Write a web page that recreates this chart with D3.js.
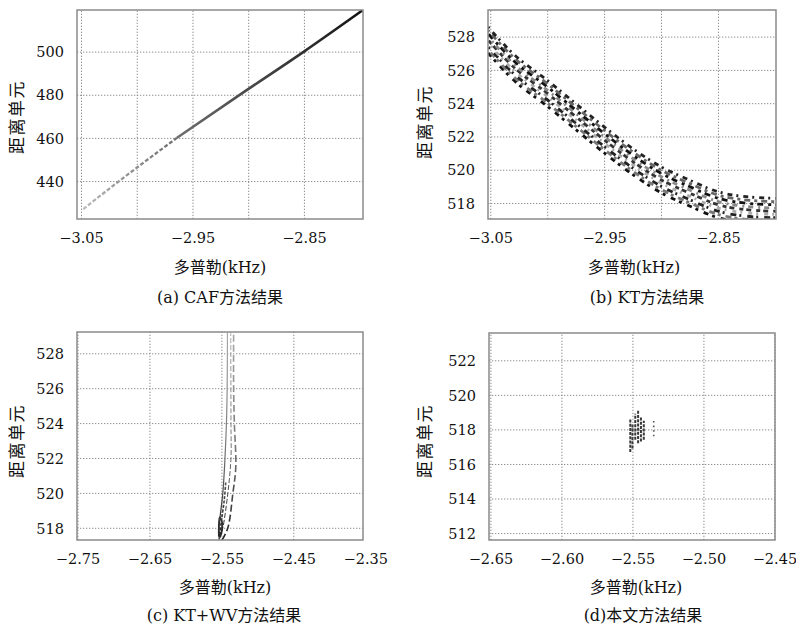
<!DOCTYPE html>
<html><head><meta charset="utf-8">
<script src="https://cdn.jsdelivr.net/npm/d3@7"></script>
<style>body{margin:0;background:#fff}</style></head>
<body>
<svg id="chart" width="796" height="630"></svg>
<script>
// ---------- DATA ----------
// (a) CAF ridge
const aDoppler = [-3.048, -3.017, -2.964, -2.906, -2.85, -2.797];
const aRange   = [427.0, 439.5, 460, 480.5, 500, 519.3];
const aLevel   = [0.2, 0.35, 0.55, 0.72, 0.85, 1.0];
// (b) KT band centre line
const bDoppler = [-3.052, -3.03, -3.00, -2.975, -2.95, -2.925, -2.90, -2.875, -2.85, -2.825, -2.797];
const bRange   = [527.8, 526.2, 524.6, 523.2, 521.8, 520.5, 519.4, 518.6, 517.9, 517.6, 517.5];
// (c) KT+WV contour lines
const cCurves = [
  {doppler: [-2.553, -2.5533, -2.548, -2.545, -2.543, -2.542, -2.5416], range: [517.3, 518, 520, 522, 524, 526, 529.2]},
  {doppler: [-2.549, -2.541, -2.534, -2.530, -2.532, -2.533, -2.533], range: [517.3, 518, 520, 521.5, 524, 526, 529.2]},
  {doppler: [-2.552, -2.548, -2.541, -2.5367, -2.5367, -2.537], range: [517.4, 518, 520, 522, 524, 529.2]},
  {doppler: [-2.552, -2.550, -2.546, -2.544], range: [517.6, 518.4, 519.6, 520.6]},
  {doppler: [-2.5535, -2.551, -2.549, -2.5525, -2.5535], range: [517.5, 517.6, 518.3, 518.6, 517.5]}
];
// (d) proposed method: compact peak
const dDoppler = [-2.5515, -2.550, -2.548, -2.546, -2.544, -2.542, -2.535];
const dLow     = [516.7, 516.9, 517.4, 517.2, 517.3, 517.4, 517.6];
const dHigh    = [518.6, 518.3, 518.9, 519.1, 518.7, 518.5, 518.6];

// tick values
const abXTicks = [-3.05, -2.95, -2.85];
const abXGrid  = [-3.05, -3.00, -2.95, -2.90, -2.85];
const aYTicks  = [440, 460, 480, 500];
const bYTicks  = [518, 520, 522, 524, 526, 528];
const cXTicks  = [-2.75, -2.65, -2.55, -2.45, -2.35];
const cYTicks  = [518, 520, 522, 524, 526, 528];
const dXTicks  = [-2.65, -2.60, -2.55, -2.50, -2.45];
const dYTicks  = [512, 514, 516, 518, 520, 522];

const xTitle = "多普勒(kHz)";
const yTitle = "距离单元";
const captions = ["(a) CAF方法结果", "(b) KT方法结果", "(c) KT+WV方法结果", "(d)本文方法结果"];

// ---------- LAYOUT ----------
const svg = d3.select("#chart");
const defs = svg.append("defs");
const SERIF = "'DejaVu Serif', 'Noto Sans CJK SC', serif";
const panels = [
  {x0: 77, x1: 363, y0: 10, y1: 219, xd: [-3.0536, -2.797], yd: [422.4, 519.3], xt: abXTicks, xg: abXGrid, yt: aYTicks,
   xt_c: [220, 273], cap: [220, 303], yt_c: [17, 117]},
  {x0: 488, x1: 776, y0: 10, y1: 219, xd: [-3.052, -2.799], yd: [517.04, 529.6], xt: abXTicks, xg: abXGrid, yt: bYTicks,
   xt_c: [634, 273], cap: [647, 303], yt_c: [425, 122]},
  {x0: 77, x1: 363, y0: 332, y1: 540, xd: [-2.7507, -2.3532], yd: [517.3, 529.22], xt: cXTicks, xg: cXTicks, yt: cYTicks,
   xt_c: [225, 593], cap: [224, 621], yt_c: [17, 441]},
  {x0: 489, x1: 775, y0: 333, y1: 540, xd: [-2.651, -2.4496], yd: [511.6, 523.58], xt: dXTicks, xg: dXTicks, yt: dYTicks,
   xt_c: [636, 593], cap: [643, 621], yt_c: [425, 441]}
];

panels.forEach((p, i) => {
  p.x = d3.scaleLinear().domain(p.xd).range([p.x0, p.x1]);
  p.y = d3.scaleLinear().domain(p.yd).range([p.y1, p.y0]);
  const g = svg.append("g");
  p.g = g;
  const clipId = "clip" + i;
  defs.append("clipPath").attr("id", clipId).append("rect")
    .attr("x", p.x0).attr("y", p.y0).attr("width", p.x1 - p.x0).attr("height", p.y1 - p.y0);
  p.clip = "url(#" + clipId + ")";

  // grid
  const inX = p.xg.filter(v => p.x(v) >= p.x0 - 0.5 && p.x(v) <= p.x1 + 0.5);
  const gx = g.append("g").attr("transform", `translate(0,${p.y1})`)
    .call(d3.axisBottom(p.x).tickValues(inX).tickSize(-(p.y1 - p.y0)).tickFormat(""));
  const gy = g.append("g").attr("transform", `translate(${p.x0},0)`)
    .call(d3.axisLeft(p.y).tickValues(p.yt).tickSize(-(p.x1 - p.x0)).tickFormat(""));
  [gx, gy].forEach(a => {
    a.select(".domain").remove();
    a.selectAll("line").attr("stroke", "#8c8c8c").attr("stroke-width", 1).attr("stroke-dasharray", "1.3 1.7");
  });

  // tick labels
  const lx = g.append("g").attr("transform", `translate(0,${p.y1 + 4})`)
    .call(d3.axisBottom(p.x).tickValues(p.xt).tickSize(0).tickPadding(10).tickFormat(d3.format(".2f")));
  const ly = g.append("g").attr("transform", `translate(${p.x0 - 13},0)`)
    .call(d3.axisLeft(p.y).tickValues(p.yt).tickSize(0).tickPadding(0).tickFormat(d3.format("d")));
  [lx, ly].forEach(a => {
    a.select(".domain").remove();
    a.selectAll("text").attr("font-family", "'DejaVu Serif', serif").attr("font-size", 14.5).attr("fill", "#111");
  });
  ly.selectAll("text").attr("dy", "0.36em");

  // titles
  g.append("text").attr("x", p.xt_c[0]).attr("y", p.xt_c[1]).attr("text-anchor", "middle")
    .attr("font-family", SERIF).attr("font-size", 16).attr("fill", "#111").text(xTitle);
  g.append("text").attr("transform", `translate(${p.yt_c[0] + 6},${p.yt_c[1]}) rotate(-90)`)
    .attr("text-anchor", "middle").attr("font-family", SERIF).attr("font-size", 17)
    .attr("letter-spacing", 1.5).attr("fill", "#111").text(yTitle);
  g.append("text").attr("x", p.cap[0]).attr("y", p.cap[1]).attr("text-anchor", "middle")
    .attr("font-family", SERIF).attr("font-size", 16).attr("fill", "#111").text(captions[i]);
});

// ---------- MARKS ----------
// (a)
{
  const p = panels[0];
  const col = d3.scaleLinear().domain([0, 1]).range(["#e6e6e6", "#111"]);
  const gr = defs.append("linearGradient").attr("id", "agrad").attr("gradientUnits", "userSpaceOnUse")
    .attr("x1", p.x(aDoppler[0])).attr("y1", p.y(aRange[0]))
    .attr("x2", p.x(aDoppler[aDoppler.length - 1])).attr("y2", p.y(aRange[aRange.length - 1]));
  const t = d3.scaleLinear().domain([aDoppler[0], aDoppler[aDoppler.length - 1]]).range([0, 1]);
  aDoppler.forEach((d, k) => gr.append("stop").attr("offset", t(d)).attr("stop-color", col(aLevel[k])));
  const m = p.g.append("g").attr("clip-path", p.clip);
  const pts = aDoppler.map((d, k) => [d, aRange[k]]);
  const line = d3.line().x(d => p.x(d[0])).y(d => p.y(d[1])).curve(d3.curveMonotoneX);
  const cut = 3;
  m.append("path").attr("d", line(pts.slice(0, cut))).attr("fill", "none")
    .attr("stroke", "url(#agrad)").attr("stroke-width", 2.3).attr("stroke-dasharray", "4 2");
  m.append("path").attr("d", line(pts.slice(cut - 1))).attr("fill", "none")
    .attr("stroke", "url(#agrad)").attr("stroke-width", 2.6);
}
// (b)
{
  const p = panels[1];
  const m = p.g.append("g").attr("clip-path", p.clip);
  const pts = bDoppler.map((d, k) => [d, bRange[k]]);
  const offsets = [-0.78, -0.58, -0.39, -0.19, 0, 0.19, 0.39, 0.58, 0.78];
  const dashes = ["5 4 3 6", "3 5 6 3", "6 3 2 6", "2 6 4 4", "4 3 5 5", "5 5 2 4", "3 4 6 5", "6 4 3 4", "2 5 5 4"];
  const colors = ["#111", "#777", "#222", "#aaa", "#333", "#888", "#111", "#666", "#222"];
  offsets.forEach((o, j) => {
    const line = d3.line().x(d => p.x(d[0])).y(d => p.y(d[1] + o)).curve(d3.curveMonotoneX);
    m.append("path").attr("d", line(pts)).attr("fill", "none")
      .attr("stroke", colors[j]).attr("stroke-width", 2.8)
      .attr("stroke-dasharray", dashes[j]).attr("stroke-dashoffset", j * 4);
  });
}
// (c)
{
  const p = panels[2];
  const gr = defs.append("linearGradient").attr("id", "cgrad").attr("gradientUnits", "userSpaceOnUse")
    .attr("x1", 0).attr("x2", 0).attr("y1", p.y1).attr("y2", p.y0);
  gr.append("stop").attr("offset", 0).attr("stop-color", "#222");
  gr.append("stop").attr("offset", 0.45).attr("stop-color", "#777");
  gr.append("stop").attr("offset", 1).attr("stop-color", "#aaa");
  const m = p.g.append("g").attr("clip-path", p.clip);
  const line = d3.line().x(d => p.x(d[0])).y(d => p.y(d[1])).curve(d3.curveCatmullRom);
  const cDash = [null, "7 3", "5 2", "3 1.5", null];
  const cW = [1.2, 1.6, 1.0, 1.6, 1.8];
  cCurves.forEach((c, k) => {
    const pts = c.doppler.map((d, j) => [d, c.range[j]]);
    m.append("path").attr("d", line(pts)).attr("fill", "none")
      .attr("stroke", "url(#cgrad)").attr("stroke-width", cW[k]).attr("stroke-dasharray", cDash[k]);
  });
}
// (d)
{
  const p = panels[3];
  const m = p.g.append("g").attr("clip-path", p.clip);
  dDoppler.forEach((d, k) => {
    const last = k === dDoppler.length - 1;
    m.append("line").attr("x1", p.x(d)).attr("x2", p.x(d))
      .attr("y1", p.y(dLow[k])).attr("y2", p.y(dHigh[k]))
      .attr("stroke", last ? "#555" : "#3a3a3a")
      .attr("stroke-width", last ? 1.6 : 2)
      .attr("stroke-dasharray", last ? "1.6 3" : "3 1.2");
  });
}

// frames (on top)
panels.forEach(p => {
  svg.append("rect").attr("x", p.x0).attr("y", p.y0).attr("width", p.x1 - p.x0).attr("height", p.y1 - p.y0)
    .attr("fill", "none").attr("stroke", "#8a8a8a").attr("stroke-width", 1.5);
});
</script>
</body></html>
